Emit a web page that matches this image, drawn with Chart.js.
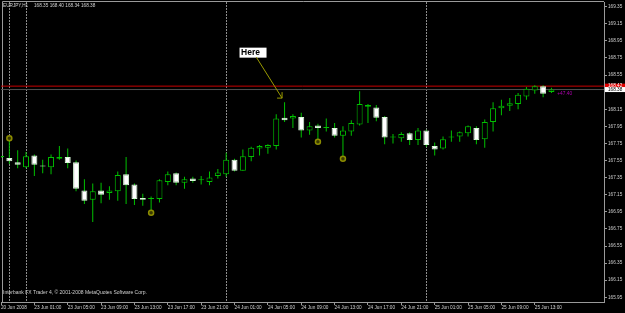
<!DOCTYPE html>
<html lang="en">
<head>
    <meta charset="UTF-8">
    <title>EURJPY,H1</title>
    <script src="https://cdn.jsdelivr.net/npm/chart.js"></script>
    <style>
        html, body {
            margin: 0;
            padding: 0;
            background: #000;
        }
        #chart {
            display: block;
        }
    </style>
</head>
<body>
    <canvas id="chart" width="625" height="313"></canvas>

    <script>
        // EURJPY H1 bars (bar 0 = last bar of 20 Jun)
        const opens  = [167.59, 167.58, 167.53, 167.47, 167.61, 167.49, 167.47, 167.57, 167.59, 167.53,
                        167.20, 167.09, 167.20, 167.17, 167.19, 167.39, 167.27, 167.11, 167.10, 167.10,
                        167.30, 167.40, 167.29, 167.34, 167.32, 167.30, 167.37, 167.39, 167.56, 167.43,
                        167.59, 167.69, 167.70, 167.72, 168.05, 168.04, 168.06, 167.90, 167.96, 167.93,
                        167.93, 167.84, 167.89, 167.97, 168.18, 168.17, 168.06, 167.82, 167.81, 167.87,
                        167.79, 167.90, 167.72, 167.69, 167.82, 167.83, 167.87, 167.93, 167.80, 168.00,
                        168.16, 168.19, 168.21, 168.30, 168.37, 168.42, 168.35];
        const highs  = [167.60, 167.78, 167.67, 167.65, 167.62, 167.56, 167.62, 167.72, 167.69, 167.55,
                        167.33, 167.28, 167.29, 167.25, 167.42, 167.59, 167.28, 167.16, 167.13, 167.33,
                        167.42, 167.41, 167.36, 167.36, 167.37, 167.42, 167.45, 167.64, 167.57, 167.68,
                        167.71, 167.73, 167.74, 168.09, 168.23, 168.09, 168.11, 168.00, 167.98, 168.04,
                        167.99, 167.95, 168.02, 168.36, 168.21, 168.20, 168.07, 167.86, 167.88, 167.88,
                        167.93, 167.91, 167.76, 167.83, 167.90, 167.89, 167.96, 167.95, 168.03, 168.23,
                        168.26, 168.28, 168.34, 168.41, 168.43, 168.43, 168.40];
        const lows   = [167.58, 167.51, 167.46, 167.46, 167.37, 167.40, 167.39, 167.56, 167.46, 167.19,
                        167.04, 166.83, 167.05, 167.09, 167.08, 167.04, 167.03, 167.02, 166.95, 167.06,
                        167.26, 167.26, 167.22, 167.29, 167.27, 167.26, 167.34, 167.36, 167.42, 167.43,
                        167.54, 167.61, 167.63, 167.68, 168.00, 167.93, 167.82, 167.85, 167.79, 167.89,
                        167.82, 167.58, 167.84, 167.96, 167.99, 168.01, 167.74, 167.75, 167.77, 167.73,
                        167.73, 167.71, 167.61, 167.68, 167.77, 167.77, 167.83, 167.74, 167.70, 167.89,
                        168.08, 168.13, 168.15, 168.26, 168.33, 168.29, 168.34];
        const closes = [167.59, 167.54, 167.50, 167.60, 167.50, 167.48, 167.59, 167.59, 167.52, 167.22,
                        167.08, 167.19, 167.15, 167.20, 167.38, 167.26, 167.10, 167.09, 167.10, 167.32,
                        167.39, 167.29, 167.33, 167.31, 167.32, 167.35, 167.41, 167.56, 167.43, 167.60,
                        167.70, 167.72, 167.73, 168.04, 168.02, 168.07, 167.90, 167.95, 167.93, 167.93,
                        167.84, 167.90, 167.99, 168.21, 168.20, 168.05, 167.82, 167.82, 167.86, 167.79,
                        167.90, 167.73, 167.68, 167.80, 167.82, 167.88, 167.95, 167.79, 168.00, 168.16,
                        168.19, 168.22, 168.32, 168.39, 168.42, 168.33, 168.38];

        // time axis labels (bar index -> label)
        const timeTicks  = [0, 4, 8, 12, 16, 20, 24, 28, 32, 36, 40, 44, 48, 52, 56, 60, 64];
        const timeLabels = ['20 Jun 2008', '23 Jun 01:00', '23 Jun 05:00', '23 Jun 09:00', '23 Jun 13:00',
                            '23 Jun 17:00', '23 Jun 21:00', '24 Jun 01:00', '24 Jun 05:00', '24 Jun 09:00',
                            '24 Jun 13:00', '24 Jun 17:00', '24 Jun 21:00', '25 Jun 01:00', '25 Jun 05:00',
                            '25 Jun 09:00', '25 Jun 13:00'];
        const priceTicks = [169.35, 169.15, 168.95, 168.75, 168.55, 168.15, 167.95, 167.75, 167.55,
                            167.35, 167.15, 166.95, 166.75, 166.55, 166.35, 166.15, 165.95];

        // day separators, fractal-style markers, horizontal levels
        const separators   = [1, 3, 27, 51];
        const markerBars   = [1, 18, 38, 41];
        const markerPrices = [167.81, 166.94, 167.77, 167.57];
        const redLevel = 168.42;
        const bidLevel = 168.38;

        const X_MIN = 0, X_MAX = 72.3;
        const Y_MIN = 165.895, Y_MAX = 169.404;

        const GREEN = '#00c000';
        const AXIS = '#9a9a9a';
        const TEXT = '#d0d0d0';
        const FONT = "'Liberation Sans', Arial, sans-serif";

        const bodies = opens.map((o, i) => ({ x: i, y: [o, closes[i]] }));
        const wicks = opens.map((o, i) => ({ x: i, y: [lows[i], highs[i]] }));
        const bodyFill = opens.map((o, i) => closes[i] > o ? '#000000' : (closes[i] < o ? '#ffffff' : GREEN));
        const bodyEdge = opens.map((o, i) => closes[i] < o ? '#d8f8d8' : GREEN);
        const markers = markerBars.map((b, i) => ({ x: b, y: markerPrices[i] }));

        const noPadding = s => {
            s.paddingLeft = 0;
            s.paddingRight = 0;
            s.paddingTop = 0;
            s.paddingBottom = 0;
        };

        const decorations = {
            id: 'decorations',
            beforeDatasetsDraw(chart) {
                const { ctx, chartArea: a, scales: { x } } = chart;
                ctx.save();
                ctx.strokeStyle = AXIS;
                ctx.lineWidth = 1;
                ctx.beginPath();
                ctx.moveTo(2.5, a.bottom);
                ctx.lineTo(2.5, 1.5);
                ctx.lineTo(a.right, 1.5);
                ctx.stroke();

                ctx.strokeStyle = '#8c8c8c';
                ctx.setLineDash([2, 1]);
                separators.forEach(k => {
                    const px = Math.round(x.getPixelForValue(k)) + 0.5;
                    ctx.beginPath();
                    ctx.moveTo(px, a.top);
                    ctx.lineTo(px, a.bottom);
                    ctx.stroke();
                });
                ctx.restore();
            },
            afterDatasetsDraw(chart) {
                const { ctx, chartArea: a, scales: { x, y } } = chart;
                const last = opens.length - 1;
                ctx.save();

                // header + copyright
                ctx.fillStyle = TEXT;
                ctx.font = `4.7px ${FONT}`;
                ctx.textBaseline = 'middle';
                ctx.fillText('EURJPY,H1', 3, 5.5);
                ctx.fillText([opens[last], highs[last], lows[last], closes[last]].map(v => v.toFixed(2)).join(' '), 34, 5.5);
                ctx.font = `5px ${FONT}`;
                ctx.fillText('Interbank FX Trader 4, \u00a9 2001-2008 MetaQuotes Software Corp.', 3, 292.5);

                // "Here" label with arrow
                const bx = x.getPixelForValue(28.6), by = y.getPixelForValue(168.87);
                ctx.fillStyle = '#ffffff';
                ctx.fillRect(bx, by, 27, 10);
                ctx.fillStyle = '#000000';
                ctx.font = `bold 8.5px ${FONT}`;
                ctx.fillText('Here', bx + 1.5, by + 5.5);

                const sx = x.getPixelForValue(30.6), sy = y.getPixelForValue(168.76);
                const tx = x.getPixelForValue(33.7), ty = y.getPixelForValue(168.28);
                ctx.strokeStyle = '#9a9a00';
                ctx.lineWidth = 1;
                ctx.beginPath();
                ctx.moveTo(sx, sy);
                ctx.lineTo(tx, ty);
                ctx.moveTo(tx, ty);
                ctx.lineTo(tx, ty - 6);
                ctx.moveTo(tx, ty);
                ctx.lineTo(tx - 5, ty);
                ctx.stroke();

                // magenta text next to the last bar
                ctx.fillStyle = '#b000b0';
                ctx.font = `4.8px ${FONT}`;
                ctx.fillText('+47.40', x.getPixelForValue(66.7), y.getPixelForValue(168.33));

                // price boxes on the axis
                ctx.font = `4.7px ${FONT}`;
                const ry = y.getPixelForValue(redLevel);
                ctx.fillStyle = '#e00000';
                ctx.fillRect(a.right + 1, ry - 2.5, 21, 5);
                ctx.fillStyle = '#ffffff';
                ctx.fillText(redLevel.toFixed(2), a.right + 4, ry);
                const wy = y.getPixelForValue(bidLevel);
                ctx.fillStyle = '#ffffff';
                ctx.fillRect(a.right + 1, wy - 2.5, 21, 5);
                ctx.fillStyle = '#000000';
                ctx.fillText(bidLevel.toFixed(2), a.right + 4, wy);
                ctx.restore();
            }
        };

        const ctx = document.getElementById('chart').getContext('2d');
        const chart = new Chart(ctx, {
            type: 'bar',
            data: {
                datasets: [
                    {
                        type: 'scatter',
                        data: markers,
                        pointStyle: 'circle',
                        pointRadius: 2.5,
                        borderWidth: 1.5,
                        borderColor: '#8c8c00',
                        backgroundColor: '#3a3a00',
                        order: 0
                    },
                    {
                        data: bodies,
                        grouped: false,
                        barThickness: 6,
                        minBarLength: 1,
                        backgroundColor: bodyFill,
                        borderColor: bodyEdge,
                        borderWidth: 1,
                        borderSkipped: false,
                        inflateAmount: 0,
                        order: 1
                    },
                    {
                        data: wicks,
                        grouped: false,
                        barThickness: 1,
                        backgroundColor: GREEN,
                        borderWidth: 0,
                        inflateAmount: 0,
                        order: 2
                    },
                    {
                        type: 'line',
                        data: [{ x: X_MIN, y: redLevel }, { x: X_MAX, y: redLevel }],
                        borderColor: '#c80000',
                        borderWidth: 1,
                        pointRadius: 0,
                        order: 4
                    },
                    {
                        type: 'line',
                        data: [{ x: X_MIN, y: bidLevel }, { x: X_MAX, y: bidLevel }],
                        borderColor: '#505050',
                        borderWidth: 1,
                        pointRadius: 0,
                        order: 3
                    }
                ]
            },
            options: {
                responsive: false,
                animation: false,
                layout: { autoPadding: false, padding: { left: 1, top: 2, right: 0, bottom: 0 } },
                plugins: {
                    legend: { display: false },
                    tooltip: { enabled: false }
                },
                scales: {
                    x: {
                        type: 'linear',
                        min: X_MIN,
                        max: X_MAX,
                        offset: false,
                        grid: { offset: false, drawOnChartArea: false, tickLength: 3, color: AXIS },
                        border: { color: AXIS },
                        ticks: {
                            color: TEXT,
                            font: { size: 4.7, family: FONT },
                            align: 'start',
                            padding: 0,
                            autoSkip: false,
                            maxRotation: 0,
                            callback: v => timeLabels[timeTicks.indexOf(v)] || ''
                        },
                        afterBuildTicks: s => { s.ticks = timeTicks.map(v => ({ value: v })); },
                        afterFit: s => { s.height = 11; noPadding(s); }
                    },
                    y: {
                        position: 'right',
                        min: Y_MIN,
                        max: Y_MAX,
                        grid: { drawOnChartArea: false, tickLength: 3, color: AXIS },
                        border: { color: AXIS },
                        ticks: {
                            color: TEXT,
                            font: { size: 4.7, family: FONT },
                            padding: 1,
                            callback: v => v.toFixed(2)
                        },
                        afterBuildTicks: s => { s.ticks = priceTicks.map(v => ({ value: v })); },
                        afterFit: s => { s.width = 21; noPadding(s); }
                    }
                }
            },
            plugins: [decorations]
        });
    </script>
</body>
</html>
